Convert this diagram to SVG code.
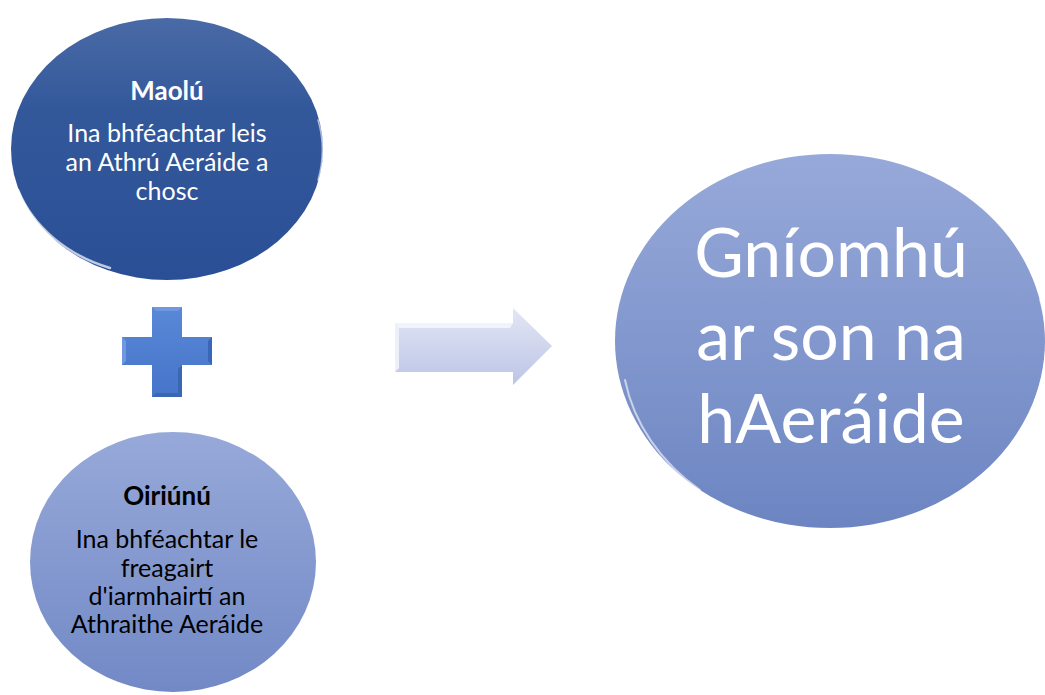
<svg xmlns="http://www.w3.org/2000/svg" width="1045" height="695" viewBox="0 0 1045 695">
<style>
.t{font-family:Lato,"Open Sans","Liberation Sans",sans-serif;text-anchor:middle}
.s{font-size:25px}
.b{font-weight:bold}
.w{fill:#ffffff}
.k{fill:#000000}
.big{font-size:68px;fill:#ffffff}
.rim{fill:none;stroke:#ffffff;stroke-linecap:round}
</style>
<defs>
<linearGradient id="gTop" x1="0" y1="0" x2="0" y2="1">
<stop offset="0" stop-color="#4a6aa6"/>
<stop offset="0.35" stop-color="#33589a"/>
<stop offset="1" stop-color="#2a4f96"/>
</linearGradient>
<linearGradient id="gBot" x1="0" y1="0" x2="0" y2="1">
<stop offset="0" stop-color="#97a9d9"/>
<stop offset="1" stop-color="#7289c6"/>
</linearGradient>
<linearGradient id="gBig" x1="0" y1="0" x2="0" y2="1">
<stop offset="0" stop-color="#97a9d9"/>
<stop offset="1" stop-color="#6c85c2"/>
</linearGradient>
<linearGradient id="gArrow" x1="0" y1="0" x2="0" y2="1">
<stop offset="0" stop-color="#e2e6f4"/>
<stop offset="1" stop-color="#bcc5e6"/>
</linearGradient>
<linearGradient id="gPlus" x1="0" y1="0" x2="0" y2="1">
<stop offset="0" stop-color="#5a88d8"/>
<stop offset="1" stop-color="#4574c9"/>
</linearGradient>
</defs>

<g id="maolu">
<ellipse cx="167" cy="149" rx="156" ry="131" fill="url(#gTop)"/>
<path class="rim" d="M 18 190 A 150 126 0 0 0 110 268" stroke-width="2.5" opacity="0.7"/>
<path class="rim" d="M 318 120 A 150 126 0 0 1 318 180" stroke-width="1.5" opacity="0.6"/>
<text class="t w b" x="167" y="100" style="font-size:26px">Maolú</text>
<text class="t w s" x="167" y="142">Ina bhféachtar leis</text>
<text class="t w s" x="167" y="171">an Athrú Aeráide a</text>
<text class="t w s" x="167" y="200">chosc</text>
</g>

<g id="plus">
<path d="M152 307 H182 V337 H212 V365 H182 V397 H152 V365 H122 V337 H152 Z" fill="url(#gPlus)"/>
<path d="M152 307 H182 L178 311 H156 Z" fill="#6f98e0"/>
<path d="M122 337 L126 341 V361 L122 365 Z" fill="#6f98e0"/>
<path d="M212 337 L208 341 V361 L212 365 Z" fill="#3a66b6"/>
<path d="M182 365 L178 369 V393 L182 397 Z" fill="#3a66b6"/>
<path d="M152 397 H182 L178 393 H156 Z" fill="#3a66b6"/>
</g>

<g id="oiriunu">
<ellipse cx="173" cy="562" rx="143" ry="130" fill="url(#gBot)"/>
<path class="rim" d="M 50 640 A 138 125 0 0 0 120 684" stroke-width="2.5" opacity="0.8"/>
<path class="rim" d="M 90 452 A 138 125 0 0 1 250 452" stroke-width="2" opacity="0.5"/>
<text class="t k b" x="167" y="505" style="font-size:26px">Oiriúnú</text>
<text class="t k s" x="167" y="548">Ina bhféachtar le</text>
<text class="t k s" x="167" y="577">freagairt</text>
<text class="t k s" x="167" y="605">d'iarmhairtí an</text>
<text class="t k s" x="167" y="633">Athraithe Aeráide</text>
</g>

<g id="connectors">
<path d="M395 323 H513 V308 L552 346 L513 385 V372 H395 Z" fill="url(#gArrow)"/>
<path d="M395 323 H513 L510 328 H399 Z" fill="#f2f4fb"/>
<path d="M395 323 L399 328 V368 L395 372 Z" fill="#eef0f9"/>
</g>

<g id="gniomhu">
<ellipse cx="830" cy="341" rx="215" ry="187" fill="url(#gBig)"/>
<path class="rim" d="M 625 380 A 210 182 0 0 0 700 490" stroke-width="2" opacity="0.6"/>
<path class="rim" d="M 1040 300 A 210 182 0 0 1 1035 400" stroke-width="1.5" opacity="0.5"/>
<text class="t big" x="831" y="277">Gníomhú</text>
<text class="t big" x="831" y="360">ar son na</text>
<text class="t big" x="831" y="443">hAeráide</text>
</g>
</svg>
